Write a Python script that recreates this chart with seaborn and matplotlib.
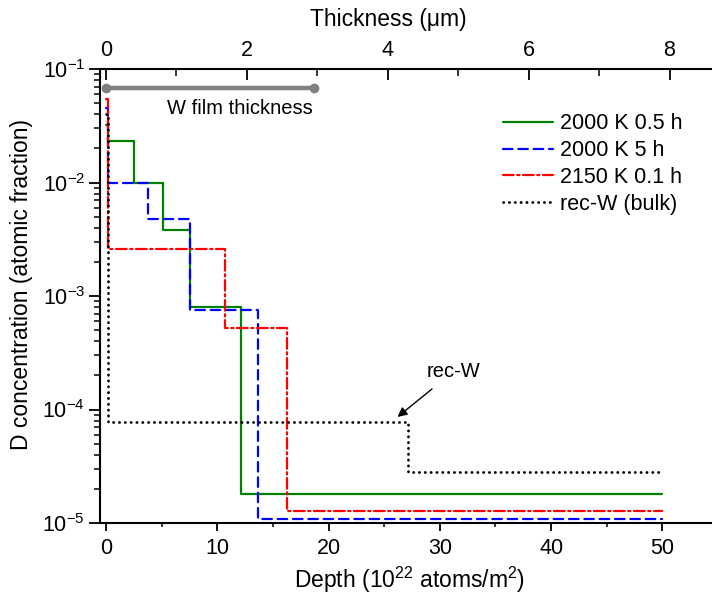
import numpy as np
import pandas as pd
import matplotlib
matplotlib.use("Agg")
import matplotlib.pyplot as plt
from matplotlib.ticker import MultipleLocator, LogLocator, FixedLocator, NullFormatter, FuncFormatter
import seaborn as sns

# step profiles: layer edges (10^22 atoms/m^2) and D concentration of each layer
green_edges = [0, 0.15, 2.5, 5.1, 7.55, 12.1, 50]
green_vals = [0.032, 0.0232, 0.0100, 0.0038, 8.0e-4, 1.8e-5]

blue_edges = [0, 0.15, 3.8, 7.55, 13.66, 50]
blue_vals = [0.045, 0.0100, 0.0048, 7.5e-4, 1.08e-5]

red_edges = [0, 0.15, 10.7, 16.26, 50]
red_vals = [0.055, 2.6e-3, 5.2e-4, 1.28e-5]

black_edges = [0, 0.15, 27.1, 50]
black_vals = [0.040, 7.8e-5, 2.8e-5]

labels = ["2000 K 0.5 h", "2000 K 5 h", "2150 K 0.1 h", "rec-W (bulk)"]

film_thickness = [0, 2.95]   # µm
film_level = 0.068
um_per_unit = 6.33           # 1 µm of W = 6.33e22 atoms/m^2

sns.set_style("ticks")
plt.rcParams["font.family"] = ["Liberation Sans", "DejaVu Sans"]
plt.rcParams["mathtext.fontset"] = "custom"
plt.rcParams["mathtext.rm"] = "Liberation Sans"
plt.rcParams["mathtext.it"] = "Liberation Sans:italic"
plt.rcParams["mathtext.default"] = "regular"
for key in ["text.color", "axes.labelcolor", "axes.edgecolor", "xtick.color", "ytick.color"]:
    plt.rcParams[key] = "black"


def step_frame(edges, vals):
    return pd.DataFrame({"depth": edges, "conc": list(vals) + [vals[-1]]})


fig = plt.figure(figsize=(7.12, 6.06), dpi=100)
ax = fig.add_axes([0.141, 0.137, 0.8675, 0.749])

series = [
    (green_edges, green_vals, "#008000", "-", 1.6),
    (blue_edges, blue_vals, "#0000FF", (0, (4.3, 2.6)), 1.6),
    (red_edges, red_vals, "#FF0000", (0, (4.8, 1.6, 1.0, 1.6)), 1.6),
    (black_edges, black_vals, "black", (0, (0.1, 2.0)), 2.0),
]
for (edges, vals, col, ls, lw), lab in zip(series, labels):
    d = step_frame(edges, vals)
    sns.lineplot(data=d, x="depth", y="conc", ax=ax, color=col, linestyle=ls,
                 linewidth=lw, drawstyle="steps-post", estimator=None,
                 sort=False, label=lab, dash_capstyle="round")

ax.set_yscale("log")
ax.set_ylim(1e-5, 1e-1)
ax.set_xlim(-0.5, 55)
ax.xaxis.set_major_locator(MultipleLocator(10))
ax.xaxis.set_minor_locator(MultipleLocator(5))
ax.yaxis.set_major_locator(LogLocator(base=10, numticks=10))
ax.yaxis.set_minor_locator(LogLocator(base=10, subs=np.arange(2, 10), numticks=20))
ax.yaxis.set_minor_formatter(NullFormatter())
ax.yaxis.set_major_formatter(FuncFormatter(lambda v, p: r"$10^{%d}$" % round(np.log10(v))))
ax.tick_params(axis="both", which="major", direction="out", length=8, width=1.3,
               labelsize=15.5, pad=3)
ax.tick_params(axis="both", which="minor", direction="out", length=4, width=1.1)
ax.tick_params(axis="x", which="major", length=6, pad=5)
ax.tick_params(axis="x", which="minor", length=3)
for s in ax.spines.values():
    s.set_linewidth(1.5)
ax.spines["top"].set_visible(False)

ax.set_xlabel(r"Depth (10$^{22}$ atoms/m$^{2}$)", fontsize=16.5, labelpad=4)
ax.set_ylabel("D concentration (atomic fraction)", fontsize=16.5, labelpad=7)
ax.yaxis.label.set_y(0.525)

# W film thickness bar
ax.plot([v * um_per_unit for v in film_thickness], [film_level, film_level],
        color="#808080", linewidth=3.2, marker="o", markersize=6, solid_capstyle="round")
ax.text(np.mean(film_thickness) * um_per_unit + 2.7, 0.0445, "W film thickness",
        fontsize=14.5, ha="center", va="center")

ax.annotate("rec-W", xy=(26.2, 8.6e-5), xytext=(31.2, 2.15e-4), fontsize=14.5,
            ha="center", va="center",
            arrowprops=dict(arrowstyle="-|>", color="black", lw=1.0,
                            shrinkA=5, shrinkB=0, mutation_scale=14))

leg = ax.legend(loc="upper left", bbox_to_anchor=(0.707, 0.813),
                bbox_transform=fig.transFigure, frameon=False, fontsize=15.5,
                handlelength=2.3, handletextpad=0.35, labelspacing=0.27,
                borderpad=0, borderaxespad=0)

# top axis: thickness in µm
ax2 = ax.twiny()
ax2.set_xlim(-0.5 / um_per_unit, 55 / um_per_unit)
ax2.xaxis.set_major_locator(FixedLocator([0, 2, 4, 6, 8]))
ax2.xaxis.set_minor_locator(FixedLocator([1, 3, 5, 7]))
ax2.tick_params(axis="x", which="major", direction="in", length=8, width=1.3,
                labelsize=15.5, pad=6)
ax2.tick_params(axis="x", which="minor", direction="in", length=5, width=1.1)
ax2.set_xlabel("Thickness (\u03bcm)", fontsize=16.5, labelpad=10)
ax2.xaxis.label.set_x(0.466)
for s in ax2.spines.values():
    s.set_linewidth(1.5)
ax2.spines["left"].set_visible(False)
ax2.spines["bottom"].set_visible(False)

fig.savefig("out.png", dpi=100)
